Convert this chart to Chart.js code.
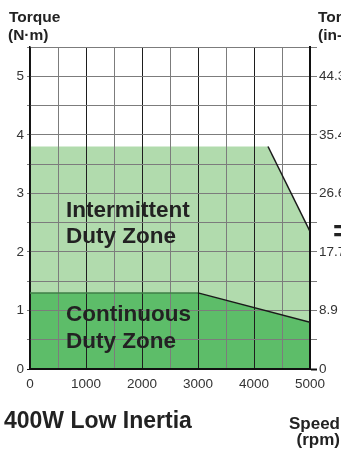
<!DOCTYPE html>
<html>
<head>
<meta charset="utf-8">
<script src="https://cdn.jsdelivr.net/npm/chart.js@4/dist/chart.umd.min.js"></script>
<style>
    html, body { margin: 0; padding: 0; background: #fff; }
    #wrap { width: 341px; height: 452px; }
</style>
</head>
<body>
<div id="wrap"><canvas id="torqueChart" width="341" height="452"></canvas></div>
<script>
// speed (rpm) / torque (N·m) corner points of each zone
const intermittentSpeed = [0, 4250, 5000];
const intermittentTorque = [3.8, 3.8, 2.35];
const continuousSpeed = [0, 3000, 5000];
const continuousTorque = [1.3, 1.3, 0.8];

// right-hand axis labels (in-lb) at 0..5 N·m
const inLbLabels = ['0', '8.9', '17.7', '26.6', '35.4', '44.3'];

const FONT = "'Liberation Sans', Arial, Helvetica, sans-serif";
const GRID_GRAY = '#7c7c7c';
const INK = '#222';

const toPoints = (xs, ys) => xs.map((x, i) => ({ x: x, y: ys[i] }));

// sloped edges get a black line, flat edges keep only the fill edge
const edgeColor = (flatColor) => (ctx) =>
    ctx.p0.parsed.y === ctx.p1.parsed.y ? flatColor : '#1a1a1a';

// titles and zone captions drawn on top of the grid
const captions = {
    id: 'captions',
    afterDraw(chart) {
        const ctx = chart.ctx;
        ctx.save();
        ctx.fillStyle = INK;
        ctx.textBaseline = 'alphabetic';

        ctx.textAlign = 'left';
        ctx.font = `bold 15.5px ${FONT}`;
        ctx.fillText('Torque', 9, 22);
        ctx.fillText('(N·m)', 8, 40);
        ctx.fillText('Torque', 318, 22);
        ctx.fillText('(in-lb)', 318, 40);

        ctx.font = `bold 22.5px ${FONT}`;
        ctx.fillText('Intermittent', 66, 217);
        ctx.fillText('Duty Zone', 66, 243);
        ctx.fillText('Continuous', 66, 321);
        ctx.fillText('Duty Zone', 66, 348);

        ctx.font = `bold 23px ${FONT}`;
        ctx.fillText('400W Low Inertia', 4, 428);

        ctx.font = `bold 30px ${FONT}`;
        ctx.fillText('=', 333, 241);

        ctx.textAlign = 'right';
        ctx.font = `bold 17px ${FONT}`;
        ctx.fillText('Speed', 340, 429);
        ctx.fillText('(rpm)', 340, 445);
        ctx.restore();
    }
};

const ctx = document.getElementById('torqueChart').getContext('2d');
new Chart(ctx, {
    type: 'line',
    data: {
        datasets: [{
            label: 'Continuous Duty Zone',
            data: toPoints(continuousSpeed, continuousTorque),
            order: 0,
            fill: 'origin',
            backgroundColor: '#5dbd69',
            borderWidth: 1.5,
            segment: { borderColor: edgeColor('#3f7f47') },
            pointRadius: 0,
            tension: 0
        }, {
            label: 'Intermittent Duty Zone',
            data: toPoints(intermittentSpeed, intermittentTorque),
            order: 1,
            fill: 'origin',
            backgroundColor: '#b1dbad',
            borderWidth: 1.5,
            segment: { borderColor: edgeColor('rgba(0,0,0,0)') },
            pointRadius: 0,
            tension: 0
        }]
    },
    options: {
        responsive: false,
        animation: false,
        events: [],
        layout: {
            padding: { top: 47, left: 0, right: 0, bottom: 58 }
        },
        plugins: {
            legend: { display: false },
            tooltip: { enabled: false },
            filler: { drawTime: 'beforeDraw' }
        },
        scales: {
            x: {
                type: 'linear',
                min: 0,
                max: 5000,
                afterFit: (scale) => { scale.height = 25; },
                border: { color: '#111', width: 2 },
                grid: {
                    drawTicks: false,
                    color: (c) => c.tick && c.tick.value % 1000 === 0 ? '#1e1e1e' : GRID_GRAY,
                    lineWidth: 1
                },
                ticks: {
                    stepSize: 500,
                    autoSkip: false,
                    maxRotation: 0,
                    padding: 7,
                    color: '#333',
                    font: { family: FONT, size: 13.5 },
                    callback: (v) => v % 1000 === 0 ? String(v) : ''
                }
            },
            y: {
                position: 'left',
                min: 0,
                max: 5.5,
                afterFit: (scale) => { scale.width = 30; },
                border: { color: '#111', width: 1.5 },
                grid: {
                    color: GRID_GRAY,
                    lineWidth: 1,
                    tickLength: 3,
                    tickColor: (c) => c.tick && c.tick.value === 0 ? '#111' : GRID_GRAY
                },
                ticks: {
                    stepSize: 0.5,
                    autoSkip: false,
                    padding: 3,
                    color: '#333',
                    font: { family: FONT, size: 13.5 },
                    callback: (v) => Number.isInteger(v) ? String(v) : ''
                }
            },
            y2: {
                position: 'right',
                min: 0,
                max: 5.5,
                afterFit: (scale) => { scale.width = 31; },
                border: { color: '#111', width: 2 },
                grid: {
                    drawOnChartArea: false,
                    tickLength: 7,
                    tickColor: (c) => c.tick && c.tick.value === 0 ? '#111' : GRID_GRAY,
                    tickWidth: (c) => c.tick && c.tick.value === 0 ? 2 : 1
                },
                ticks: {
                    stepSize: 0.5,
                    autoSkip: false,
                    padding: 2,
                    color: '#333',
                    font: { family: FONT, size: 13.5 },
                    callback: (v) => Number.isInteger(v) ? inLbLabels[v] : ''
                }
            }
        }
    },
    plugins: [captions]
});
</script>
</body>
</html>
